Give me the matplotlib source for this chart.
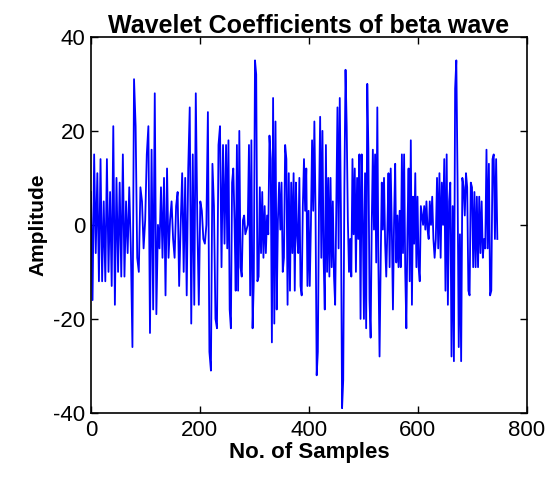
import numpy as np
import matplotlib
matplotlib.use('Agg')
import matplotlib.pyplot as plt

# coefficient values, in chunks of samples
chunk_starts = [0, 123, 248, 372, 497, 622]
chunk_ends = [123, 248, 372, 497, 622, 746]

c1 = [7, -16, 15, -6, 11, -12, 14, -12, 5, -12, 14, -10, 7, -13, 21, -17, 10, -10, 9, -11,
      15, -11, 5, -6, 8, -5, -26, 31, 21, -7, -10, 8, 5, -5, 1, 15, 21, -23, 16, -18, 28, -19]
c2 = [0, -5, 8, -7, 10, -15, 12, -7, 1, 5, -3, -7, 4, 7, -13, 0, 11, -10, 10, -15, 12, 25,
      -21, 15, -17, 28, 1, -17, 5, 3, -3, -4, 0, 24, -27, -31, 13, 4, -20, -22, 17, 21, -9, 17, -4]
c3 = [17, -5, 18, -18, -22, 9, 12, 1, -14, 17, -14, 20, -9, -11, 1, 2, -2, -1, 0, 17, -15, 18,
      -22, -12, 35, 32, -12, -11, 8, -6, 7, -7, 4, -6, 2, -2, 19, 14, -25, 27, -21, 22, -18, 1,
      9, -1, 9, -10, -7, 17, 14, -17, 11, -14, 9, -6]
c4 = [11, -14, 9, -2, -6, 10, -13, -15, 4, 14, 3, 12, -13, 3, -13, 0, 18, 3, 22, 3, -32, -27,
      4, 23, -7, 20, -7, -18, 17, -10, 10, -11, 10, -9, 5, -11, -17, 4, 25, -5, 27, 3, -39, -33,
      8, 33, 21, 1, -10, -3, -11, 14, -2, 12, -10, 10, -3, 15, -20]
c5 = [15, 1, -20, 11, -22, 30, 16, -16, -24, 0, 16, -1, 15, -8, 25, -9, -28, -8, 9, -1, 10, -4,
      -11, -1, 11, -9, 12, -1, -18, 1, 13, -8, 2, -9, 3, -9, 15, -6, 15, -10, -22, -1, 12, -12,
      18, -17, 6, -4, 11, -9, 6, -9, -12, 4, 2, 0, 4, -1, 5, -1, -3]
c6 = [5, 0, 6, -3, -7, -3, 10, -5, 11, -7, 9, 0, 14, -14, 15, -17, 5, 9, -28, 4, -29, 29, 35,
      10, -26, -2, -29, 10, 8, 2, 11, 8, -14, -15, 9, 8, -9, 7, -9, 6, -9, 6, -6, 5, -7, -3, -5,
      16, -5, 13, -15, -14, 14, 15, -3, 14, -3]

chunks = [c1, c2, c3, c4, c5, c6]
xs, ys = [], []
for s, e, c in zip(chunk_starts, chunk_ends, chunks):
    last = (c is c6)
    xs.append(np.linspace(s, e, len(c), endpoint=last))
    ys.append(np.array(c, dtype=float))
x = np.concatenate(xs)
y = np.concatenate(ys)

plt.rcParams['font.family'] = ['Liberation Sans', 'DejaVu Sans']
plt.rcParams['axes.unicode_minus'] = False
fig = plt.figure(figsize=(5.58, 4.79), dpi=100)
ax = fig.add_axes([0.163, 0.138, 0.781, 0.785])
ax.plot(x, y, color='#0000ff', linewidth=1.3)
ax.set_xlim(0, 800)
ax.set_ylim(-40, 40)
ax.set_xticks([0, 200, 400, 600, 800])
ax.set_yticks([-40, -20, 0, 20, 40])
ax.tick_params(direction='in', top=True, right=True, labelsize=16, length=5, width=1)
ax.tick_params(axis='x', pad=5)
ax.tick_params(axis='y', pad=4)
for sp in ax.spines.values():
    sp.set_linewidth(1.2)
ax.set_title('Wavelet Coefficients of beta wave', fontsize=18, fontweight='bold', pad=3)
ax.set_xlabel('No. of Samples', fontsize=16, fontweight='bold', labelpad=1)
ax.set_ylabel('Amplitude', fontsize=15, fontweight='bold', labelpad=4)
fig.savefig('out.png', dpi=100)
